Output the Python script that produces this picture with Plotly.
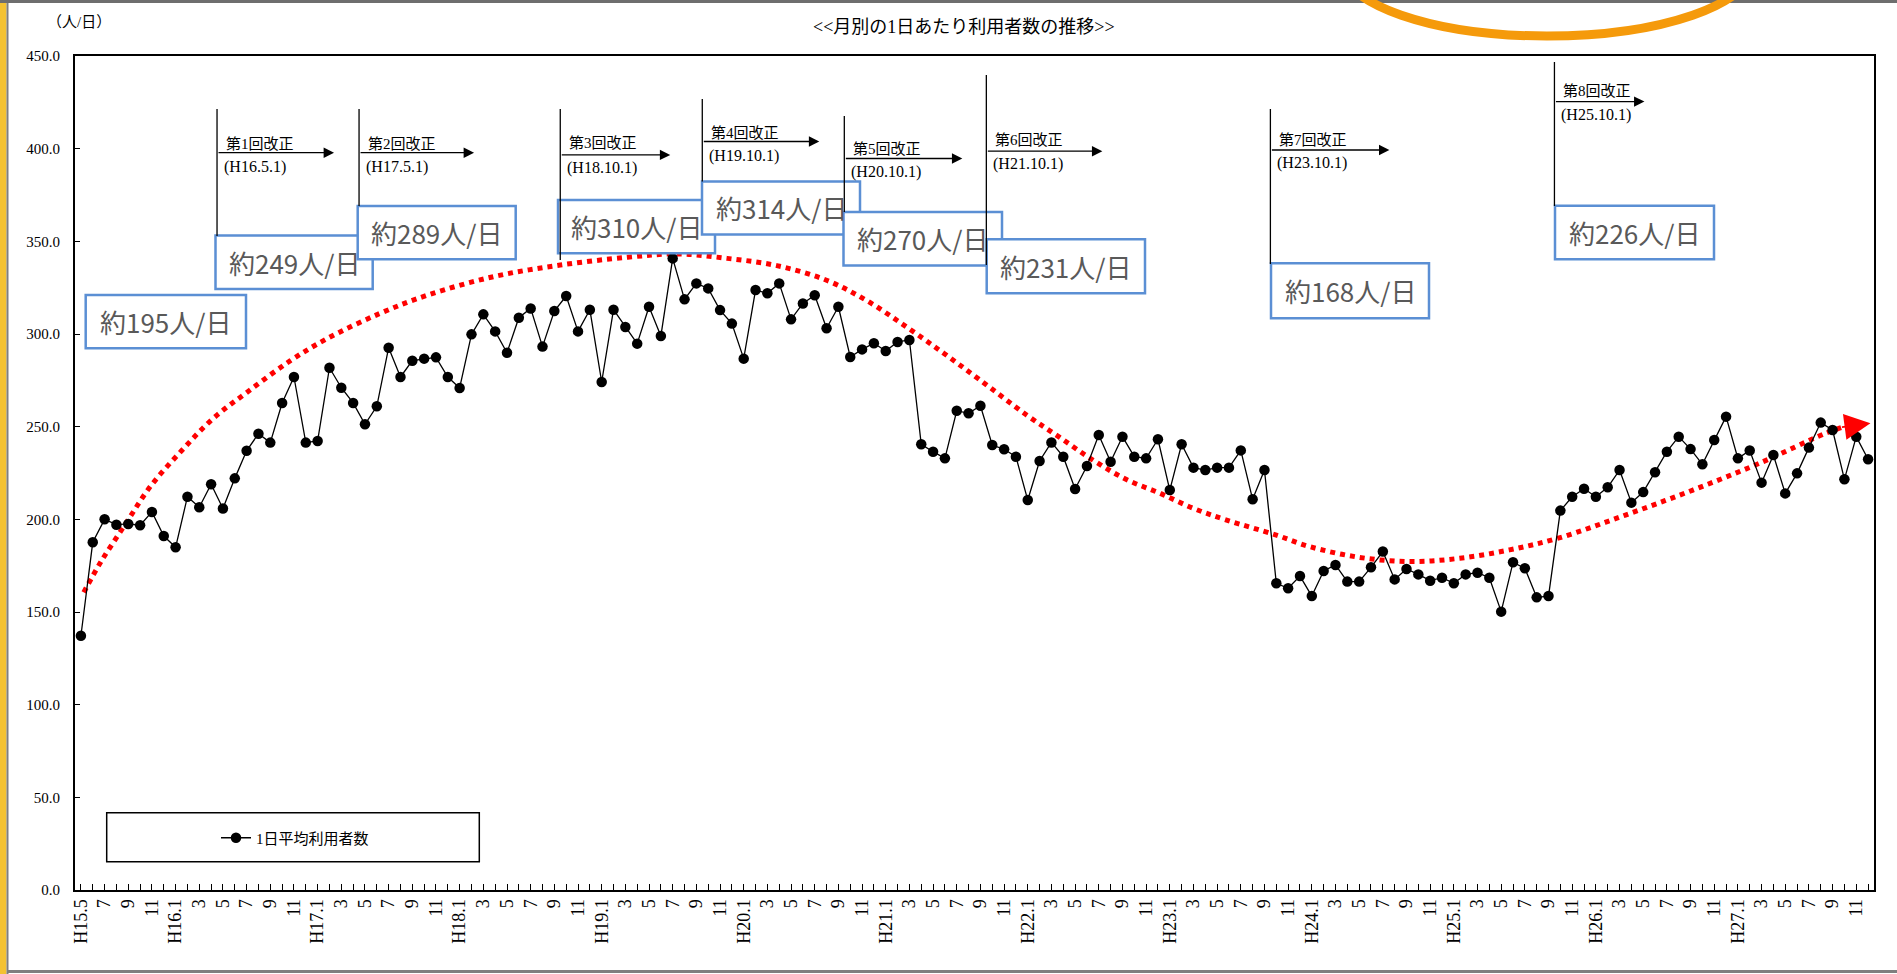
import plotly.graph_objects as go

# ---------------- data ----------------
MONTHS = [
    "H15.5", "H15.6", "H15.7", "H15.8", "H15.9", "H15.10", "H15.11", "H15.12",
    "H16.1", "H16.2", "H16.3", "H16.4", "H16.5", "H16.6", "H16.7", "H16.8", "H16.9", "H16.10", "H16.11", "H16.12",
    "H17.1", "H17.2", "H17.3", "H17.4", "H17.5", "H17.6", "H17.7", "H17.8", "H17.9", "H17.10", "H17.11", "H17.12",
    "H18.1", "H18.2", "H18.3", "H18.4", "H18.5", "H18.6", "H18.7", "H18.8", "H18.9", "H18.10", "H18.11", "H18.12",
    "H19.1", "H19.2", "H19.3", "H19.4", "H19.5", "H19.6", "H19.7", "H19.8", "H19.9", "H19.10", "H19.11", "H19.12",
    "H20.1", "H20.2", "H20.3", "H20.4", "H20.5", "H20.6", "H20.7", "H20.8", "H20.9", "H20.10", "H20.11", "H20.12",
    "H21.1", "H21.2", "H21.3", "H21.4", "H21.5", "H21.6", "H21.7", "H21.8", "H21.9", "H21.10", "H21.11", "H21.12",
    "H22.1", "H22.2", "H22.3", "H22.4", "H22.5", "H22.6", "H22.7", "H22.8", "H22.9", "H22.10", "H22.11", "H22.12",
    "H23.1", "H23.2", "H23.3", "H23.4", "H23.5", "H23.6", "H23.7", "H23.8", "H23.9", "H23.10", "H23.11", "H23.12",
    "H24.1", "H24.2", "H24.3", "H24.4", "H24.5", "H24.6", "H24.7", "H24.8", "H24.9", "H24.10", "H24.11", "H24.12",
    "H25.1", "H25.2", "H25.3", "H25.4", "H25.5", "H25.6", "H25.7", "H25.8", "H25.9", "H25.10", "H25.11", "H25.12",
    "H26.1", "H26.2", "H26.3", "H26.4", "H26.5", "H26.6", "H26.7", "H26.8", "H26.9", "H26.10", "H26.11", "H26.12",
    "H27.1", "H27.2", "H27.3", "H27.4", "H27.5", "H27.6", "H27.7", "H27.8", "H27.9", "H27.10", "H27.11", "H27.12",
]

USERS = [
    137.2, 187.6, 200.0, 197.1, 197.5, 196.8, 204.0, 191.0,
    184.9, 212.2, 206.5, 218.9, 205.8, 222.1, 237.0, 246.2, 241.4, 262.8, 276.8, 241.4,
    242.3, 281.8, 271.0, 262.8, 251.3, 261.0, 292.6, 276.8, 285.6, 286.7, 287.4, 276.8,
    270.9, 299.8, 310.6, 301.4, 289.9, 308.8, 313.8, 293.2, 312.4, 320.5, 301.4, 313.1,
    274.1, 313.1, 303.8, 294.8, 314.7, 298.9, 340.8, 318.7, 327.3, 324.6, 312.9, 305.6,
    286.7, 323.7, 322.0, 327.3, 307.9, 316.5, 320.9, 303.1, 314.7, 287.6, 291.7, 295.0,
    290.8, 295.7, 296.8, 240.5, 236.5, 232.9, 258.6, 257.2, 261.3, 240.1, 237.8, 233.8,
    210.4, 231.5, 241.5, 233.8, 216.4, 228.8, 245.5, 231.1, 244.6, 233.8, 232.9, 243.2,
    215.8, 240.5, 227.9, 226.6, 227.9, 227.9, 237.2, 210.8, 226.6, 165.5, 162.8, 169.4,
    158.6, 172.1, 175.4, 166.4, 166.4, 174.1, 182.6, 167.6, 173.2, 170.3, 166.9, 168.5,
    165.5, 170.3, 171.2, 168.5, 150.2, 176.8, 173.6, 157.9, 158.6, 204.7, 212.2, 216.5,
    212.2, 217.3, 226.6, 209.0, 214.7, 225.4, 236.5, 244.6, 237.9, 229.7, 242.8, 255.4,
    232.9, 237.1, 219.8, 234.7, 214.0, 224.8, 238.7, 252.2, 248.2, 221.6, 244.6, 232.4,
]

TICK_LABELS = [
    "H15.5", "7", "9", "11",
    "H16.1", "3", "5", "7", "9", "11",
    "H17.1", "3", "5", "7", "9", "11",
    "H18.1", "3", "5", "7", "9", "11",
    "H19.1", "3", "5", "7", "9", "11",
    "H20.1", "3", "5", "7", "9", "11",
    "H21.1", "3", "5", "7", "9", "11",
    "H22.1", "3", "5", "7", "9", "11",
    "H23.1", "3", "5", "7", "9", "11",
    "H24.1", "3", "5", "7", "9", "11",
    "H25.1", "3", "5", "7", "9", "11",
    "H26.1", "3", "5", "7", "9", "11",
    "H27.1", "3", "5", "7", "9", "11",
]

# hand-drawn red dotted trend arrow (month position, value)
TREND_X = [0.24, 1.7, 3.8, 5.9, 8.5, 11.1, 14.1, 17.7, 20.8, 25.3, 29.3, 34.9, 40.5, 46.2,
           50.4, 54.6, 58.8, 63.0, 66.4, 69.8, 72.9, 75.9, 79.9, 82.7, 85.5, 88.3, 91.2,
           94.0, 96.8, 101.0, 103.8, 108.0, 112.3, 116.5, 120.7, 124.9, 130.5, 136.2,
           141.8, 147.4, 149.0]
TREND_Y = [160.6, 177.2, 197.8, 218.0, 237.0, 254.0, 268.9, 285.6, 297.5, 311.2, 321.0, 331.0,
           337.2, 341.4, 343.2, 340.8, 336.9, 329.0, 318.0, 303.6, 289.6, 275.5, 256.3, 244.2,
           232.0, 221.6, 214.0, 205.9, 199.6, 191.5, 185.3, 179.5, 177.2, 179.0, 183.5, 190.0,
           202.3, 215.8, 230.2, 246.4, 250.0]
TREND_TIP = (151.2, 251.8)

REV_NAMES = ["第1回改正", "第2回改正", "第3回改正", "第4回改正",
             "第5回改正", "第6回改正", "第7回改正", "第8回改正"]
REV_DATES = ["(H16.5.1)", "(H17.5.1)", "(H18.10.1)", "(H19.10.1)",
             "(H20.10.1)", "(H21.10.1)", "(H23.10.1)", "(H25.10.1)"]
REV_X = [11.5, 23.5, 40.5, 52.5, 64.5, 76.5, 100.5, 124.5]   # month boundaries

BOX_LABELS = ["約195人/日", "約249人/日", "約289人/日", "約310人/日", "約314人/日",
              "約270人/日", "約231人/日", "約168人/日", "約226人/日"]

# ---------------- layout geometry (pixels) ----------------
W, H = 1897, 974
ML, MR, MT, MB = 75, 23, 56, 84
PW, PH = W - ML - MR, H - MT - MB


def fx(p):
    return (p - ML) / PW


def fy(p):
    return 1 - (p - MT) / PH


# (line top, line bottom, name y, arrow y, date y, arrow length)
REV_GEOM = [
    (109, 236, 144.3, 152.7, 166.7, 117),
    (109, 206, 144.3, 152.7, 166.7, 115),
    (109, 260, 142.8, 154.9, 168.0, 110),
    (99, 181.5, 133.0, 141.5, 156.0, 117),
    (116, 212, 148.8, 158.5, 171.8, 118),
    (75, 265, 140.3, 151.2, 164.5, 116),
    (109, 264, 140.3, 150.0, 163.3, 119),
    (62, 206, 90.7, 101.6, 115.0, 90),
]
# boxes (x0, y0, x1, y1)
BOX_GEOM = [
    (85.7, 295.0, 246.0, 348.3),
    (215.5, 235.5, 372.7, 289.0),
    (357.7, 206.0, 515.7, 259.3),
    (558.0, 200.0, 715.0, 253.3),
    (702.0, 181.5, 860.0, 234.5),
    (843.5, 212.0, 1002.0, 265.5),
    (986.7, 239.3, 1145.0, 293.3),
    (1271.0, 263.3, 1429.0, 318.3),
    (1555.0, 205.7, 1714.0, 259.3),
]

SERIF = "Liberation Serif, Noto Sans CJK JP"
JP = "Noto Sans CJK JP, Liberation Serif"

fig = go.Figure()

fig.add_trace(go.Scatter(
    x=TREND_X, y=TREND_Y, mode="lines",
    line=dict(color="#FF0000", width=5, dash="dot", shape="spline", smoothing=1.0),
    showlegend=False, hoverinfo="skip",
))

fig.add_trace(go.Scatter(
    x=list(range(len(USERS))), y=USERS, customdata=MONTHS,
    mode="lines+markers", name="1日平均利用者数",
    line=dict(color="#000000", width=1.3),
    marker=dict(color="#000000", size=10.5, symbol="circle"),
    hovertemplate="%{customdata}: %{y:.1f}<extra></extra>",
))

tickvals = list(range(len(MONTHS)))
ticktext = [TICK_LABELS[i // 2] if i % 2 == 0 else "" for i in tickvals]

shapes = []
annotations = []

# page frame
shapes.append(dict(type="rect", xref="paper", yref="paper",
                   x0=fx(0), x1=fx(6.5), y0=fy(974), y1=fy(0),
                   fillcolor="#F4C232", line=dict(width=0), layer="below"))
shapes.append(dict(type="line", xref="paper", yref="paper",
                   x0=fx(7.5), x1=fx(7.5), y0=fy(974), y1=fy(0),
                   line=dict(color="#7F7F7F", width=2)))
shapes.append(dict(type="line", xref="paper", yref="paper",
                   x0=fx(0), x1=fx(1897), y0=fy(1.5), y1=fy(1.5),
                   line=dict(color="#6E6E6E", width=3)))
shapes.append(dict(type="line", xref="paper", yref="paper",
                   x0=fx(7), x1=fx(1897), y0=fy(971.5), y1=fy(971.5),
                   line=dict(color="#7F7F7F", width=3)))
# orange ellipse partly visible at top
shapes.append(dict(type="circle", xref="paper", yref="paper",
                   x0=fx(1341), x1=fx(1753), y0=fy(36), y1=fy(-106),
                   line=dict(color="#F59A0B", width=9)))

# legend frame
shapes.append(dict(type="rect", xref="paper", yref="paper",
                   x0=fx(106.7), x1=fx(479.3), y0=fy(861.7), y1=fy(812.7),
                   line=dict(color="#000000", width=1.5), fillcolor="rgba(0,0,0,0)"))

# value boxes
for (x0, y0, x1, y1), label in zip(BOX_GEOM, BOX_LABELS):
    shapes.append(dict(type="rect", xref="paper", yref="paper",
                       x0=fx(x0), x1=fx(x1), y0=fy(y1), y1=fy(y0),
                       fillcolor="#FFFFFF", line=dict(color="#5B8FD4", width=2.5)))
    annotations.append(dict(xref="paper", yref="paper",
                            x=fx((x0 + x1) / 2), y=fy((y0 + y1) / 2),
                            text=label, showarrow=False,
                            xanchor="center", yanchor="middle",
                            font=dict(family=JP, size=26, color="#595959")))

# revision markers
for rx, name, date, (ltop, lbot, ny, ay, dy, alen) in zip(REV_X, REV_NAMES, REV_DATES, REV_GEOM):
    shapes.append(dict(type="line", xref="x", yref="paper",
                       x0=rx, x1=rx, y0=fy(lbot), y1=fy(ltop),
                       line=dict(color="#000000", width=1.3)))
    annotations.append(dict(xref="x", yref="paper", x=rx, y=fy(ny), xshift=7,
                            text=name, showarrow=False, xanchor="left", yanchor="middle",
                            font=dict(family=SERIF, size=15, color="#000000")))
    annotations.append(dict(xref="x", yref="paper", x=rx, y=fy(dy), xshift=5,
                            text=date, showarrow=False, xanchor="left", yanchor="middle",
                            font=dict(family=SERIF, size=16, color="#000000")))
    annotations.append(dict(xref="x", yref="paper", x=rx, y=fy(ay), xshift=alen,
                            text="", showarrow=True, ax=-alen, ay=0,
                            arrowhead=2, arrowsize=1.6, arrowwidth=1.3, arrowcolor="#000000"))

# red arrow head at end of trend
annotations.append(dict(xref="x", yref="y", x=TREND_TIP[0], y=TREND_TIP[1],
                        text="", showarrow=True, ax=-30, ay=4,
                        arrowhead=2, arrowsize=2.6, arrowwidth=2, arrowcolor="#FF0000"))

# titles
annotations.append(dict(xref="paper", yref="paper", x=fx(964), y=fy(26.6),
                        text="&lt;&lt;月別の1日あたり利用者数の推移&gt;&gt;", showarrow=False,
                        xanchor="center", yanchor="middle",
                        font=dict(family=SERIF, size=18, color="#000000")))
annotations.append(dict(xref="paper", yref="paper", x=fx(78.5), y=fy(22),
                        text="（人/日）", showarrow=False,
                        xanchor="center", yanchor="middle",
                        font=dict(family=SERIF, size=15, color="#000000")))

fig.update_layout(
    width=W, height=H,
    margin=dict(l=ML, r=MR, t=MT, b=MB, pad=0),
    paper_bgcolor="#FFFFFF", plot_bgcolor="#FFFFFF",
    font=dict(family=SERIF, color="#000000"),
    shapes=shapes, annotations=annotations,
    showlegend=True,
    legend=dict(x=fx(216), y=fy(838), xanchor="left", yanchor="middle",
                bgcolor="rgba(0,0,0,0)", borderwidth=0,
                font=dict(family=SERIF, size=15, color="#000000")),
    xaxis=dict(range=[-0.5, 151.5], tickmode="array", tickvals=tickvals, ticktext=ticktext,
               tickangle=-90, ticks="inside", ticklen=6, tickwidth=1, tickcolor="#000000",
               showline=True, linecolor="#000000", linewidth=2, mirror=True,
               showgrid=False, zeroline=False,
               tickfont=dict(family="Liberation Serif", size=18, color="#000000")),
    yaxis=dict(range=[0, 450], dtick=50, tickformat=".1f",
               ticks="inside", ticklen=5, tickwidth=1, tickcolor="#000000",
               showline=True, linecolor="#000000", linewidth=2, mirror=True,
               showgrid=False, zeroline=False, ticklabelstandoff=10,
               tickfont=dict(family="Liberation Serif", size=15, color="#000000")),
)

fig.write_html("out.html",
               config={"displayModeBar": False},
               post_script="document.body.style.margin='0';document.body.style.overflow='hidden';")
